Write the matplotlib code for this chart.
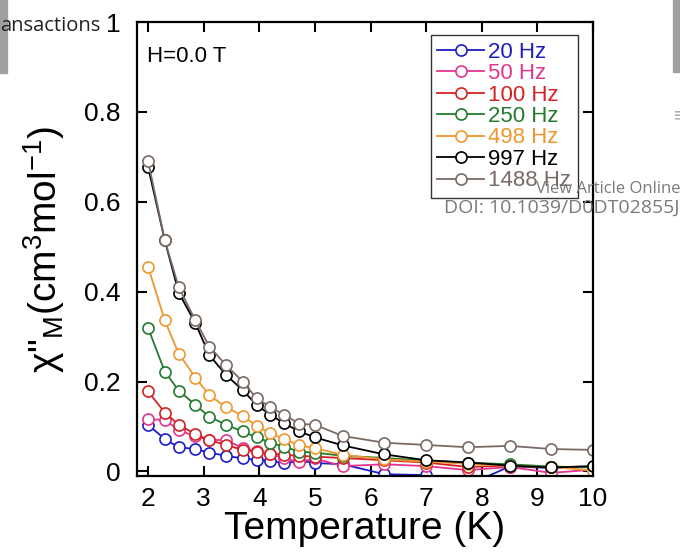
import matplotlib
matplotlib.use('Agg')
import matplotlib.pyplot as plt

plt.rcParams['font.family'] = ['Liberation Sans', 'DejaVu Sans']
plt.rcParams['mathtext.fontset'] = 'custom'
plt.rcParams['mathtext.rm'] = 'Liberation Sans'
plt.rcParams['mathtext.it'] = 'Liberation Sans:italic'

# temperatures (K)
temps = [2.0, 2.3, 2.55, 2.85, 3.1, 3.4, 3.7, 3.95, 4.2, 4.45, 4.72, 5.0,
         5.5, 6.25, 7.0, 7.75, 8.5, 9.25, 10.0]

# chi'' values for each frequency
chi_20 = [0.104, 0.072, 0.054, 0.050, 0.042, 0.035, 0.029, 0.026, 0.024, 0.018,
          0.024, 0.019, 0.016, -0.006, -0.008, -0.030, 0.011, 0.008, 0.010]
chi_50 = [0.116, 0.115, 0.092, 0.078, 0.070, 0.070, 0.052, 0.046, 0.039, 0.029,
          0.021, 0.029, 0.012, 0.016, 0.012, 0.003, 0.010, -0.003, 0.004]
chi_100 = [0.178, 0.131, 0.104, 0.083, 0.070, 0.059, 0.048, 0.044, 0.040, 0.037,
           0.035, 0.033, 0.030, 0.025, 0.020, 0.010, 0.013, 0.009, 0.011]
chi_250 = [0.319, 0.222, 0.180, 0.148, 0.122, 0.104, 0.089, 0.076, 0.064, 0.055,
           0.044, 0.042, 0.035, 0.030, 0.024, 0.020, 0.016, 0.011, 0.009]
chi_498 = [0.455, 0.336, 0.262, 0.209, 0.170, 0.143, 0.124, 0.101, 0.085, 0.072,
           0.058, 0.052, 0.037, 0.027, 0.022, 0.017, 0.012, 0.010, 0.002]
chi_997 = [0.677, 0.514, 0.398, 0.330, 0.259, 0.215, 0.181, 0.148, 0.126, 0.107,
           0.089, 0.076, 0.058, 0.038, 0.025, 0.020, 0.013, 0.009, 0.012]
chi_1488 = [0.690, 0.514, 0.410, 0.336, 0.278, 0.237, 0.200, 0.163, 0.143, 0.126,
            0.106, 0.104, 0.079, 0.064, 0.059, 0.054, 0.057, 0.050, 0.048]

labels = ['20 Hz', '50 Hz', '100 Hz', '250 Hz', '498 Hz', '997 Hz', '1488 Hz']
series = [chi_20, chi_50, chi_100, chi_250, chi_498, chi_997, chi_1488]
colors = ['#1c1cc8', '#e2358e', '#d42222', '#237a2e', '#f0962e', '#000000', '#7a6a64']

fig = plt.figure(figsize=(6.8, 5.56), dpi=100)
ax = fig.add_axes([0.2015, 0.1439, 0.6705, 0.8165])

for vals, lab, col in zip(series, labels, colors):
    ax.plot(temps, vals, '-o', color=col, lw=1.3, ms=8, mfc='white',
            mec=col, mew=1.2, label=lab)

ax.set_xlim(1.8, 10.0)
ax.set_ylim(-0.01, 1.0)
ax.set_xticks([2, 3, 4, 5, 6, 7, 8, 9, 10])
ax.set_yticks([0, 0.2, 0.4, 0.6, 0.8, 1.0])
ax.set_yticklabels(['0', '0.2', '0.4', '0.6', '0.8', '1'])
ax.tick_params(direction='in', length=7, width=1.5, top=True, right=True,
               labelsize=19)
ax.tick_params(axis='y', pad=12)
ax.tick_params(axis='x', pad=8)
for sp in ax.spines.values():
    sp.set_linewidth(1.6)

ax.set_xlabel('Temperature (K)', fontsize=28, labelpad=0)
ax.set_ylabel('χ"$_\\mathrm{M}$(cm$^3$mol$^{-1}$)', fontsize=28, labelpad=12)

ax.text(0.022, 0.948, 'H=0.0 T', transform=ax.transAxes, fontsize=16,
        va='top', ha='left')

leg = ax.legend(loc='upper right', bbox_to_anchor=(578 / 680, 1 - 35 / 556),
                bbox_transform=fig.transFigure, borderaxespad=0,
                fontsize=16, handlelength=2.1, handletextpad=0.2,
                labelspacing=0.02, borderpad=0.3, fancybox=False,
                framealpha=1, edgecolor='#333333')
leg.get_frame().set_linewidth(1.0)
for txt, col in zip(leg.get_texts(), colors):
    txt.set_color(col)

# page overlay bits from the article page
fig.patches.append(plt.Rectangle((0, 1 - 73 / 556), 7 / 680, 73 / 556,
                                 transform=fig.transFigure, color='#a0a0a0'))
fig.patches.append(plt.Rectangle((673 / 680, 1 - 72 / 556), 7 / 680, 72 / 556,
                                 transform=fig.transFigure, color='#a0a0a0'))
fig.text(0.0, 1 - 31 / 556, 'ansactions', fontsize=14.5, color='#222222',
         family=['Open Sans', 'DejaVu Sans'])
fig.text(673 / 680, 1 - 120 / 556, '≡', fontsize=14, color='#b0b0b0',
         family=['DejaVu Sans'])
fig.text(1.0, 1 - 193 / 556, 'View Article Online', fontsize=12,
         color='#7a7a7a', ha='right', family=['Open Sans', 'DejaVu Sans'])
fig.text(1.0, 1 - 213 / 556, 'DOI: 10.1039/D0DT02855J', fontsize=14,
         color='#7a7a7a', ha='right', family=['Open Sans', 'DejaVu Sans'])

fig.savefig('out.png', dpi=100)
